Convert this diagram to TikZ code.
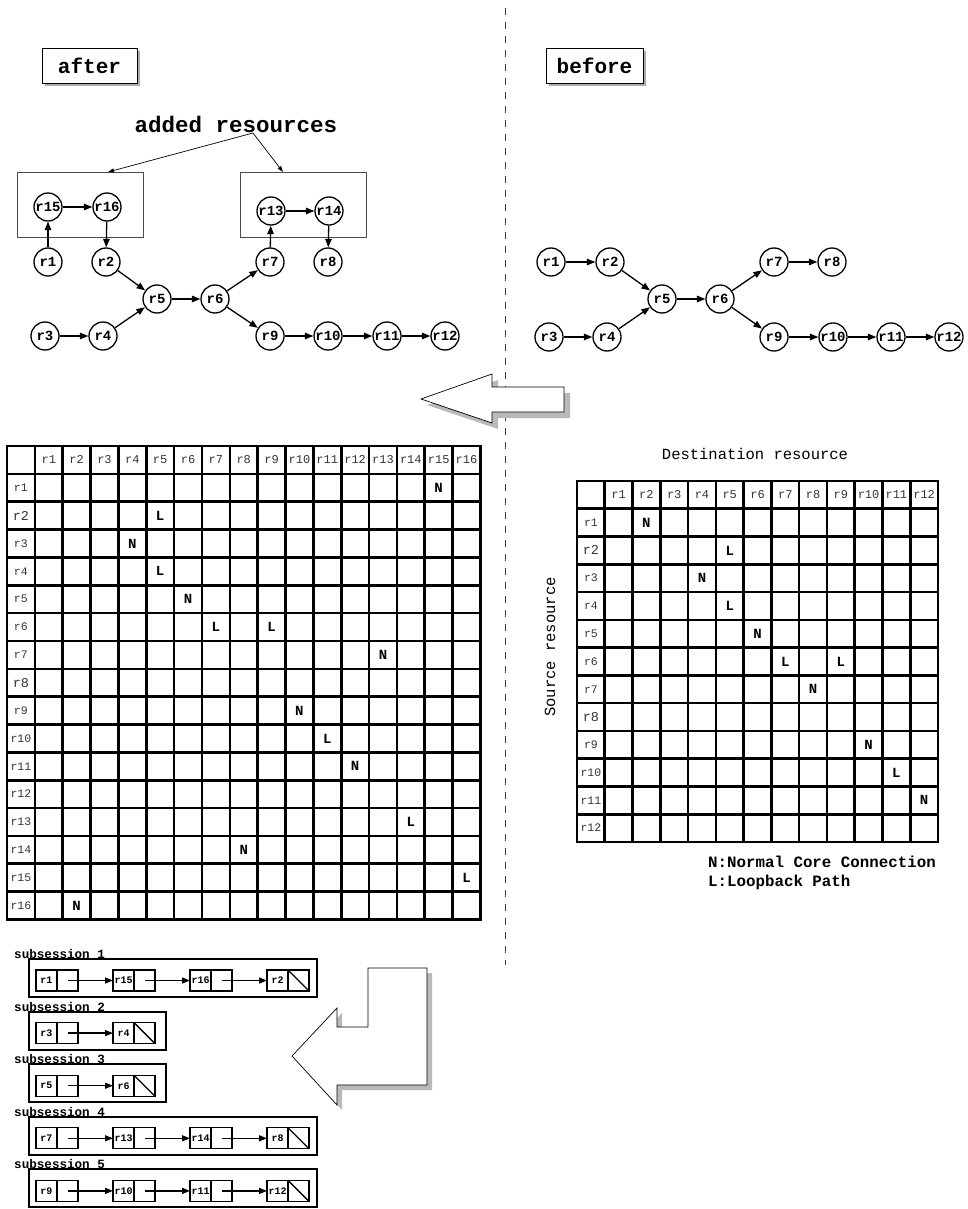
\documentclass[tikz,border=0pt]{standalone}
\usepackage{fontspec}
\setmonofont{Liberation Mono}
\usetikzlibrary{arrows.meta,positioning,shadows}

\newcommand\fs[1]{\fontsize{#1}{#1}\selectfont}

\tikzset{
  res/.style={circle,draw,line width=1.3pt,minimum size=28pt,inner sep=0pt,
    font=\ttfamily\bfseries\fs{14}},
  edge/.style={->,line width=1.3pt},
  tagbox/.style={draw,line width=.8pt,fill=white,minimum height=35pt,
    font=\ttfamily\bfseries\fs{21},
    drop shadow={shadow xshift=3pt,shadow yshift=-3pt,fill=gray!65,opacity=1}},
  grpbox/.style={draw=black!70,line width=.9pt,minimum width=126pt,minimum height=65pt},
  grid/.style={line width=2.6pt,line cap=rect},
  hdr/.style={font=\ttfamily\fs{12},text=black!80,inner sep=0pt},
  conn/.style={font=\ttfamily\bfseries\fs{14},inner sep=0pt},
  cellbox/.style={draw,line width=1.3pt,minimum size=21pt,inner sep=0pt,outer sep=0pt,
    font=\ttfamily\bfseries\fs{10}},
  sublabel/.style={font=\ttfamily\bfseries\fs{12.6},inner sep=0pt},
  bigarrow/.style={fill=white,draw,line width=.7pt},
  arrowshade/.style={fill=gray!55}
}

\begin{document}
\begin{tikzpicture}[x=1pt,y=-1pt,>={Stealth[inset=0pt,length=8.5pt,width=6.5pt]}]
  \useasboundingbox (0,0) rectangle (968,1209);

  % divider
  \draw[dash pattern=on 7pt off 7pt,black!75,line width=1pt] (505,8) -- (505,965);

  % after / before tags
  \node[tagbox,minimum width=95pt] (after) at (89.5,65.5) {after};
  \node[tagbox,minimum width=97pt] (before) at (594.5,65.5) {before};

  % graph after
  \node[font=\ttfamily\bfseries\fs{22.5}] (added) at (236,124) {added resources};
  \coordinate (addsrc) at (253,133);
  \node[grpbox] (grpL) at (80,204.5) {};
  \node[grpbox] (grpR) at (303,204.5) {};
  \coordinate (grpLtop) at (108,172);
  \coordinate (grpRtop) at (283,172);
  \draw[->,line width=.7pt,>={Stealth[inset=0pt,length=6pt,width=4pt]}] (addsrc) -- (grpLtop);
  \draw[->,line width=.7pt,>={Stealth[inset=0pt,length=6pt,width=4pt]}] (addsrc) -- (grpRtop);

  \node[res] (a15) at (48,207) {r15};
  \node[res] (a16) at (107,207) {r16};
  \node[res] (a13) at (271,211) {r13};
  \node[res] (a14) at (329,211) {r14};
  \node[res] (a1) at (48,262) {r1};
  \node[res] (a2) at (106,262) {r2};
  \node[res] (a7) at (270,262) {r7};
  \node[res] (a8) at (328,262) {r8};
  \node[res] (a5) at (157,299) {r5};
  \node[res] (a6) at (215,299) {r6};
  \node[res] (a3) at (45,336) {r3};
  \node[res] (a4) at (103,336) {r4};
  \node[res] (a9) at (270,336) {r9};
  \node[res] (a10) at (328,336) {r10};
  \node[res] (a11) at (387,336) {r11};
  \node[res] (a12) at (445,336) {r12};
  \foreach \s/\t in {1/15,15/16,16/2,2/5,3/4,4/5,5/6,6/7,7/13,13/14,14/8,6/9,9/10,10/11,11/12}
    \draw[edge] (a\s) -- (a\t);

  % graph before
  \node[res] (b1) at (551,262) {r1};
  \node[res] (b2) at (610,262) {r2};
  \node[res] (b5) at (662,299) {r5};
  \node[res] (b6) at (720,299) {r6};
  \node[res] (b7) at (774,262) {r7};
  \node[res] (b8) at (832,262) {r8};
  \node[res] (b3) at (549,337) {r3};
  \node[res] (b4) at (607,337) {r4};
  \node[res] (b9) at (774,337) {r9};
  \node[res] (b10) at (833,337) {r10};
  \node[res] (b11) at (891,337) {r11};
  \node[res] (b12) at (949,337) {r12};
  \foreach \s/\t in {1/2,2/5,3/4,4/5,5/6,6/7,7/8,6/9,9/10,10/11,11/12}
    \draw[edge] (b\s) -- (b\t);

  % arrow before -> after
  \fill[arrowshade,xshift=6pt,yshift=-6pt] (421,399) -- (492,374) -- (492,387) -- (564,387)
    -- (564,412) -- (492,412) -- (492,423) -- cycle;
  \filldraw[bigarrow] (421,399) -- (492,374) -- (492,387) -- (564,387)
    -- (564,412) -- (492,412) -- (492,423) -- cycle;

  % matrix after (16 resources)
  \foreach \i in {0,...,17}{
    \draw[grid] ({7+27.85*\i},446) -- ({7+27.85*\i},919.45);
    \draw[grid] (7,{446+27.85*\i}) -- (480.45,{446+27.85*\i});
  }
  \foreach \i in {1,...,16}{
    \pgfmathsetmacro\sz{or(\i==2,\i==8)?13.5:11.5}
    \node[hdr] (Lc\i) at ({7+27.85*(\i+0.5)},459.9) {r\i};
    \node[hdr,font=\ttfamily\fs{\sz}] (Lr\i) at (20.9,{446+27.85*(\i+0.5)}) {r\i};
  }
  \foreach \r/\c/\t in {1/15/N,2/5/L,3/4/N,4/5/L,5/6/N,6/7/L,6/9/L,7/13/N,9/10/N,
      10/11/L,11/12/N,13/14/L,14/8/N,15/16/L,16/2/N}
    \node[conn] (L\r-\c) at ({7+27.85*(\c+0.5)},{446+27.85*(\r+0.5)}) {\t};

  % matrix before (12 resources)
  \node[font=\ttfamily\fs{15.5}] (dest) at (755,454) {Destination resource};
  \node[font=\ttfamily\fs{15.5},rotate=90] (src) at (550,647) {Source resource};
  \foreach \i in {0,...,13}{
    \draw[grid] ({577+27.77*\i},481) -- ({577+27.77*\i},842);
    \draw[grid] (577,{481+27.77*\i}) -- (938,{481+27.77*\i});
  }
  \foreach \i in {1,...,12}{
    \pgfmathsetmacro\sz{or(\i==2,\i==8)?13.5:11.5}
    \node[hdr] (Rc\i) at ({577+27.77*(\i+0.5)},494.9) {r\i};
    \node[hdr,font=\ttfamily\fs{\sz}] (Rr\i) at (590.9,{481+27.77*(\i+0.5)}) {r\i};
  }
  \foreach \r/\c/\t in {1/2/N,2/5/L,3/4/N,4/5/L,5/6/N,6/7/L,6/9/L,7/8/N,9/10/N,
      10/11/L,11/12/N}
    \node[conn] (R\r-\c) at ({577+27.77*(\c+0.5)},{481+27.77*(\r+0.5)}) {\t};
  \node[font=\ttfamily\bfseries\fs{15.8},anchor=west,inner sep=0pt] (keyN) at (708,862)
    {N:Normal Core Connection};
  \node[font=\ttfamily\bfseries\fs{15.8},anchor=west,inner sep=0pt] (keyL) at (708,882)
    {L:Loopback Path};

  % arrow matrix -> subsessions
  \fill[arrowshade,xshift=5pt,yshift=-5pt] (292,1056) -- (337,1008) -- (337,1027) -- (368,1027)
    -- (368,968) -- (427,968) -- (427,1085) -- (337,1085) -- (337,1105) -- cycle;
  \filldraw[bigarrow] (292,1056) -- (337,1008) -- (337,1027) -- (368,1027)
    -- (368,968) -- (427,968) -- (427,1085) -- (337,1085) -- (337,1105) -- cycle;

  % subsession lists
  \foreach \k/\w/\n/\lst in {1/317/4/{1,15,16,2},2/166/2/{3,4},3/166/2/{5,6},
      4/317/4/{7,13,14,8},5/317/4/{9,10,11,12}}{
    \pgfmathsetmacro\yy{980.5+52.6*(\k-1)}
    \node[sublabel,anchor=west] (lab\k) at (14,\yy-26.5) {subsession \k};
    \draw[line width=1.9pt] (29,\yy-21.5) rectangle (\w,\yy+16.5);
    \foreach \r [count=\j] in \lst{
      \node[cellbox] (s\k-\j) at ({46.5+77*(\j-1)},\yy) {r\r};
      \node[cellbox,right=0pt of s\k-\j] (p\k-\j) {};
      \ifnum\j>1
        \pgfmathtruncatemacro\jp{\j-1}
        \draw[->,line width=1.3pt,>={Stealth[inset=0pt,length=8pt,width=6pt]}]
          (p\k-\jp.center) -- (s\k-\j.west);
      \fi
    }
    \draw[line width=1.3pt] (p\k-\n.north west) -- (p\k-\n.south east);
  }
\end{tikzpicture}
\end{document}
